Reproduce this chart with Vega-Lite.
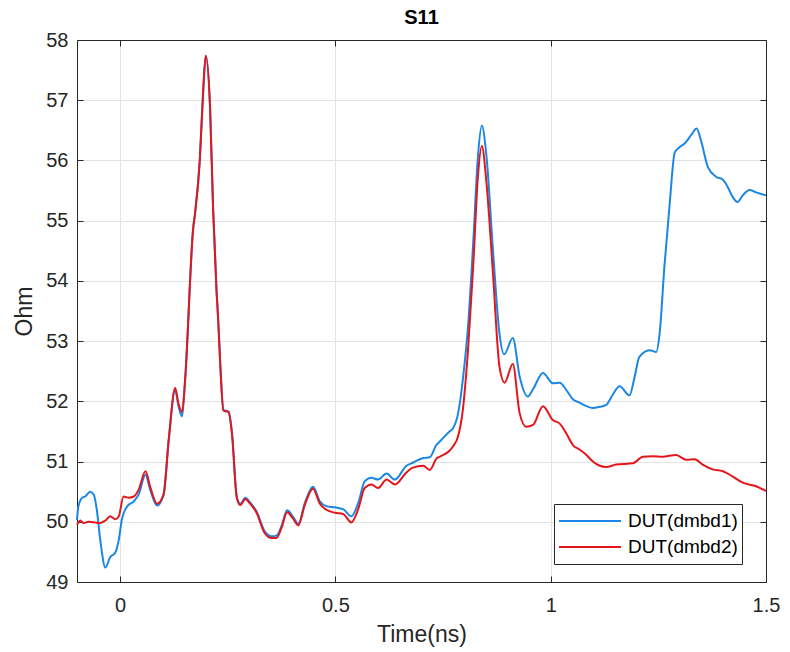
{
"$schema":"https://vega.github.io/schema/vega-lite/v6.json",
"width":689,"height":542,
"autosize":{"type":"none"},
"padding":{"left":77,"top":40,"right":24,"bottom":70},
"background":"white",
"title":{"text":"S11","fontSize":20,"fontWeight":"bold","font":"Liberation Sans","color":"#000000","offset":14,"dy":12},
"config":{"view":{"stroke":null},"font":"Liberation Sans",
 "axis":{"labelFont":"Liberation Sans","labelFontSize":20,"labelColor":"#262626","domainColor":"#262626","tickColor":"#262626","tickSize":-6,"gridColor":"#e3e3e3","gridWidth":1,"titleFont":"Liberation Sans","titleFontSize":23,"titleFontWeight":"normal","titleColor":"#262626","labelFlush":false,"labelOverlap":false}},
"datasets":{"d":[
{"s":"DUT(dmbd1)","t":-0.100,"v":50.03},{"s":"DUT(dmbd1)","t":-0.097,"v":50.25},{"s":"DUT(dmbd1)","t":-0.088,"v":50.40},{"s":"DUT(dmbd1)","t":-0.081,"v":50.42},{"s":"DUT(dmbd1)","t":-0.069,"v":50.50},{"s":"DUT(dmbd1)","t":-0.061,"v":50.45},{"s":"DUT(dmbd1)","t":-0.054,"v":50.20},{"s":"DUT(dmbd1)","t":-0.046,"v":49.70},{"s":"DUT(dmbd1)","t":-0.034,"v":49.24},{"s":"DUT(dmbd1)","t":-0.023,"v":49.41},{"s":"DUT(dmbd1)","t":-0.011,"v":49.49},{"s":"DUT(dmbd1)","t":-0.003,"v":49.70},{"s":"DUT(dmbd1)","t":0.004,"v":50.03},{"s":"DUT(dmbd1)","t":0.016,"v":50.25},{"s":"DUT(dmbd1)","t":0.032,"v":50.34},{"s":"DUT(dmbd1)","t":0.043,"v":50.45},{"s":"DUT(dmbd1)","t":0.059,"v":50.78},{"s":"DUT(dmbd1)","t":0.070,"v":50.53},{"s":"DUT(dmbd1)","t":0.086,"v":50.27},{"s":"DUT(dmbd1)","t":0.101,"v":50.45},{"s":"DUT(dmbd1)","t":0.113,"v":51.36},{"s":"DUT(dmbd1)","t":0.128,"v":52.19},{"s":"DUT(dmbd1)","t":0.136,"v":51.91},{"s":"DUT(dmbd1)","t":0.144,"v":51.75},{"s":"DUT(dmbd1)","t":0.151,"v":52.35},{"s":"DUT(dmbd1)","t":0.170,"v":54.90},{"s":"DUT(dmbd1)","t":0.174,"v":55.12},{"s":"DUT(dmbd1)","t":0.185,"v":56.00},{"s":"DUT(dmbd1)","t":0.193,"v":57.16},{"s":"DUT(dmbd1)","t":0.199,"v":57.74},{"s":"DUT(dmbd1)","t":0.209,"v":56.89},{"s":"DUT(dmbd1)","t":0.216,"v":55.23},{"s":"DUT(dmbd1)","t":0.224,"v":53.85},{"s":"DUT(dmbd1)","t":0.228,"v":53.35},{"s":"DUT(dmbd1)","t":0.233,"v":52.58},{"s":"DUT(dmbd1)","t":0.240,"v":51.86},{"s":"DUT(dmbd1)","t":0.252,"v":51.83},{"s":"DUT(dmbd1)","t":0.260,"v":51.47},{"s":"DUT(dmbd1)","t":0.271,"v":50.42},{"s":"DUT(dmbd1)","t":0.279,"v":50.30},{"s":"DUT(dmbd1)","t":0.291,"v":50.40},{"s":"DUT(dmbd1)","t":0.302,"v":50.32},{"s":"DUT(dmbd1)","t":0.317,"v":50.17},{"s":"DUT(dmbd1)","t":0.336,"v":49.84},{"s":"DUT(dmbd1)","t":0.352,"v":49.76},{"s":"DUT(dmbd1)","t":0.363,"v":49.77},{"s":"DUT(dmbd1)","t":0.375,"v":49.93},{"s":"DUT(dmbd1)","t":0.388,"v":50.19},{"s":"DUT(dmbd1)","t":0.401,"v":50.09},{"s":"DUT(dmbd1)","t":0.414,"v":49.97},{"s":"DUT(dmbd1)","t":0.429,"v":50.31},{"s":"DUT(dmbd1)","t":0.448,"v":50.58},{"s":"DUT(dmbd1)","t":0.464,"v":50.34},{"s":"DUT(dmbd1)","t":0.479,"v":50.26},{"s":"DUT(dmbd1)","t":0.499,"v":50.24},{"s":"DUT(dmbd1)","t":0.518,"v":50.21},{"s":"DUT(dmbd1)","t":0.537,"v":50.09},{"s":"DUT(dmbd1)","t":0.553,"v":50.31},{"s":"DUT(dmbd1)","t":0.568,"v":50.67},{"s":"DUT(dmbd1)","t":0.584,"v":50.73},{"s":"DUT(dmbd1)","t":0.599,"v":50.70},{"s":"DUT(dmbd1)","t":0.619,"v":50.80},{"s":"DUT(dmbd1)","t":0.638,"v":50.70},{"s":"DUT(dmbd1)","t":0.665,"v":50.93},{"s":"DUT(dmbd1)","t":0.680,"v":50.98},{"s":"DUT(dmbd1)","t":0.704,"v":51.06},{"s":"DUT(dmbd1)","t":0.719,"v":51.07},{"s":"DUT(dmbd1)","t":0.735,"v":51.28},{"s":"DUT(dmbd1)","t":0.742,"v":51.33},{"s":"DUT(dmbd1)","t":0.765,"v":51.50},{"s":"DUT(dmbd1)","t":0.773,"v":51.55},{"s":"DUT(dmbd1)","t":0.785,"v":51.80},{"s":"DUT(dmbd1)","t":0.796,"v":52.36},{"s":"DUT(dmbd1)","t":0.808,"v":53.24},{"s":"DUT(dmbd1)","t":0.820,"v":54.62},{"s":"DUT(dmbd1)","t":0.831,"v":56.06},{"s":"DUT(dmbd1)","t":0.840,"v":56.58},{"s":"DUT(dmbd1)","t":0.851,"v":56.06},{"s":"DUT(dmbd1)","t":0.866,"v":54.51},{"s":"DUT(dmbd1)","t":0.881,"v":53.13},{"s":"DUT(dmbd1)","t":0.892,"v":52.78},{"s":"DUT(dmbd1)","t":0.912,"v":53.05},{"s":"DUT(dmbd1)","t":0.928,"v":52.41},{"s":"DUT(dmbd1)","t":0.947,"v":52.08},{"s":"DUT(dmbd1)","t":0.959,"v":52.20},{"s":"DUT(dmbd1)","t":0.982,"v":52.47},{"s":"DUT(dmbd1)","t":1.005,"v":52.30},{"s":"DUT(dmbd1)","t":1.021,"v":52.31},{"s":"DUT(dmbd1)","t":1.036,"v":52.19},{"s":"DUT(dmbd1)","t":1.052,"v":52.03},{"s":"DUT(dmbd1)","t":1.067,"v":51.98},{"s":"DUT(dmbd1)","t":1.083,"v":51.92},{"s":"DUT(dmbd1)","t":1.098,"v":51.89},{"s":"DUT(dmbd1)","t":1.114,"v":51.91},{"s":"DUT(dmbd1)","t":1.129,"v":51.94},{"s":"DUT(dmbd1)","t":1.144,"v":52.11},{"s":"DUT(dmbd1)","t":1.160,"v":52.25},{"s":"DUT(dmbd1)","t":1.183,"v":52.10},{"s":"DUT(dmbd1)","t":1.195,"v":52.41},{"s":"DUT(dmbd1)","t":1.206,"v":52.74},{"s":"DUT(dmbd1)","t":1.230,"v":52.85},{"s":"DUT(dmbd1)","t":1.245,"v":52.82},{"s":"DUT(dmbd1)","t":1.253,"v":53.13},{"s":"DUT(dmbd1)","t":1.264,"v":54.23},{"s":"DUT(dmbd1)","t":1.276,"v":55.25},{"s":"DUT(dmbd1)","t":1.288,"v":56.13},{"s":"DUT(dmbd1)","t":1.299,"v":56.22},{"s":"DUT(dmbd1)","t":1.311,"v":56.28},{"s":"DUT(dmbd1)","t":1.326,"v":56.42},{"s":"DUT(dmbd1)","t":1.339,"v":56.53},{"s":"DUT(dmbd1)","t":1.349,"v":56.33},{"s":"DUT(dmbd1)","t":1.365,"v":55.89},{"s":"DUT(dmbd1)","t":1.384,"v":55.73},{"s":"DUT(dmbd1)","t":1.400,"v":55.68},{"s":"DUT(dmbd1)","t":1.411,"v":55.56},{"s":"DUT(dmbd1)","t":1.423,"v":55.39},{"s":"DUT(dmbd1)","t":1.434,"v":55.31},{"s":"DUT(dmbd1)","t":1.446,"v":55.42},{"s":"DUT(dmbd1)","t":1.462,"v":55.51},{"s":"DUT(dmbd1)","t":1.477,"v":55.47},{"s":"DUT(dmbd1)","t":1.500,"v":55.42},
{"s":"DUT(dmbd2)","t":-0.100,"v":49.95},{"s":"DUT(dmbd2)","t":-0.092,"v":50.02},{"s":"DUT(dmbd2)","t":-0.085,"v":49.98},{"s":"DUT(dmbd2)","t":-0.073,"v":50.00},{"s":"DUT(dmbd2)","t":-0.058,"v":49.99},{"s":"DUT(dmbd2)","t":-0.046,"v":49.98},{"s":"DUT(dmbd2)","t":-0.034,"v":50.02},{"s":"DUT(dmbd2)","t":-0.023,"v":50.09},{"s":"DUT(dmbd2)","t":-0.011,"v":50.04},{"s":"DUT(dmbd2)","t":-0.003,"v":50.09},{"s":"DUT(dmbd2)","t":0.008,"v":50.42},{"s":"DUT(dmbd2)","t":0.020,"v":50.40},{"s":"DUT(dmbd2)","t":0.032,"v":50.42},{"s":"DUT(dmbd2)","t":0.043,"v":50.53},{"s":"DUT(dmbd2)","t":0.059,"v":50.84},{"s":"DUT(dmbd2)","t":0.070,"v":50.58},{"s":"DUT(dmbd2)","t":0.086,"v":50.30},{"s":"DUT(dmbd2)","t":0.101,"v":50.45},{"s":"DUT(dmbd2)","t":0.113,"v":51.36},{"s":"DUT(dmbd2)","t":0.128,"v":52.22},{"s":"DUT(dmbd2)","t":0.136,"v":51.95},{"s":"DUT(dmbd2)","t":0.144,"v":51.82},{"s":"DUT(dmbd2)","t":0.151,"v":52.35},{"s":"DUT(dmbd2)","t":0.170,"v":54.88},{"s":"DUT(dmbd2)","t":0.174,"v":55.10},{"s":"DUT(dmbd2)","t":0.185,"v":55.98},{"s":"DUT(dmbd2)","t":0.193,"v":57.14},{"s":"DUT(dmbd2)","t":0.199,"v":57.74},{"s":"DUT(dmbd2)","t":0.209,"v":56.87},{"s":"DUT(dmbd2)","t":0.216,"v":55.20},{"s":"DUT(dmbd2)","t":0.224,"v":53.83},{"s":"DUT(dmbd2)","t":0.228,"v":53.33},{"s":"DUT(dmbd2)","t":0.233,"v":52.56},{"s":"DUT(dmbd2)","t":0.240,"v":51.85},{"s":"DUT(dmbd2)","t":0.252,"v":51.82},{"s":"DUT(dmbd2)","t":0.260,"v":51.45},{"s":"DUT(dmbd2)","t":0.271,"v":50.40},{"s":"DUT(dmbd2)","t":0.279,"v":50.28},{"s":"DUT(dmbd2)","t":0.291,"v":50.38},{"s":"DUT(dmbd2)","t":0.302,"v":50.30},{"s":"DUT(dmbd2)","t":0.317,"v":50.15},{"s":"DUT(dmbd2)","t":0.336,"v":49.81},{"s":"DUT(dmbd2)","t":0.352,"v":49.73},{"s":"DUT(dmbd2)","t":0.363,"v":49.73},{"s":"DUT(dmbd2)","t":0.375,"v":49.90},{"s":"DUT(dmbd2)","t":0.388,"v":50.16},{"s":"DUT(dmbd2)","t":0.401,"v":50.06},{"s":"DUT(dmbd2)","t":0.414,"v":49.94},{"s":"DUT(dmbd2)","t":0.429,"v":50.28},{"s":"DUT(dmbd2)","t":0.448,"v":50.55},{"s":"DUT(dmbd2)","t":0.464,"v":50.30},{"s":"DUT(dmbd2)","t":0.479,"v":50.20},{"s":"DUT(dmbd2)","t":0.499,"v":50.15},{"s":"DUT(dmbd2)","t":0.518,"v":50.13},{"s":"DUT(dmbd2)","t":0.537,"v":49.99},{"s":"DUT(dmbd2)","t":0.553,"v":50.21},{"s":"DUT(dmbd2)","t":0.568,"v":50.56},{"s":"DUT(dmbd2)","t":0.584,"v":50.62},{"s":"DUT(dmbd2)","t":0.599,"v":50.56},{"s":"DUT(dmbd2)","t":0.619,"v":50.70},{"s":"DUT(dmbd2)","t":0.638,"v":50.62},{"s":"DUT(dmbd2)","t":0.665,"v":50.82},{"s":"DUT(dmbd2)","t":0.680,"v":50.90},{"s":"DUT(dmbd2)","t":0.704,"v":50.93},{"s":"DUT(dmbd2)","t":0.719,"v":50.86},{"s":"DUT(dmbd2)","t":0.735,"v":51.05},{"s":"DUT(dmbd2)","t":0.742,"v":51.08},{"s":"DUT(dmbd2)","t":0.765,"v":51.18},{"s":"DUT(dmbd2)","t":0.773,"v":51.25},{"s":"DUT(dmbd2)","t":0.785,"v":51.42},{"s":"DUT(dmbd2)","t":0.796,"v":51.86},{"s":"DUT(dmbd2)","t":0.808,"v":52.85},{"s":"DUT(dmbd2)","t":0.820,"v":54.23},{"s":"DUT(dmbd2)","t":0.831,"v":55.73},{"s":"DUT(dmbd2)","t":0.840,"v":56.24},{"s":"DUT(dmbd2)","t":0.851,"v":55.62},{"s":"DUT(dmbd2)","t":0.866,"v":54.12},{"s":"DUT(dmbd2)","t":0.881,"v":52.58},{"s":"DUT(dmbd2)","t":0.893,"v":52.31},{"s":"DUT(dmbd2)","t":0.912,"v":52.62},{"s":"DUT(dmbd2)","t":0.928,"v":51.80},{"s":"DUT(dmbd2)","t":0.943,"v":51.58},{"s":"DUT(dmbd2)","t":0.959,"v":51.61},{"s":"DUT(dmbd2)","t":0.982,"v":51.92},{"s":"DUT(dmbd2)","t":1.005,"v":51.69},{"s":"DUT(dmbd2)","t":1.021,"v":51.63},{"s":"DUT(dmbd2)","t":1.036,"v":51.47},{"s":"DUT(dmbd2)","t":1.052,"v":51.27},{"s":"DUT(dmbd2)","t":1.067,"v":51.20},{"s":"DUT(dmbd2)","t":1.083,"v":51.11},{"s":"DUT(dmbd2)","t":1.098,"v":51.00},{"s":"DUT(dmbd2)","t":1.114,"v":50.93},{"s":"DUT(dmbd2)","t":1.129,"v":50.91},{"s":"DUT(dmbd2)","t":1.152,"v":50.95},{"s":"DUT(dmbd2)","t":1.191,"v":50.97},{"s":"DUT(dmbd2)","t":1.214,"v":51.08},{"s":"DUT(dmbd2)","t":1.237,"v":51.09},{"s":"DUT(dmbd2)","t":1.260,"v":51.08},{"s":"DUT(dmbd2)","t":1.291,"v":51.11},{"s":"DUT(dmbd2)","t":1.315,"v":51.03},{"s":"DUT(dmbd2)","t":1.334,"v":51.04},{"s":"DUT(dmbd2)","t":1.353,"v":50.95},{"s":"DUT(dmbd2)","t":1.376,"v":50.87},{"s":"DUT(dmbd2)","t":1.400,"v":50.84},{"s":"DUT(dmbd2)","t":1.423,"v":50.75},{"s":"DUT(dmbd2)","t":1.446,"v":50.65},{"s":"DUT(dmbd2)","t":1.477,"v":50.59},{"s":"DUT(dmbd2)","t":1.500,"v":50.51}
]},
"data":{"name":"d"},
"layer":[
{"mark":{"type":"line","strokeWidth":2,"interpolate":"monotone"},
 "encoding":{
  "x":{"field":"t","type":"quantitative","scale":{"domain":[-0.1,1.5],"nice":false,"zero":false},
       "axis":{"orient":"bottom","values":[0,0.5,1,1.5],"format":"~g","title":"Time(ns)","labelPadding":19,"titlePadding":8,"grid":true}},
  "y":{"field":"v","type":"quantitative","scale":{"domain":[49,58],"nice":false,"zero":false},
       "axis":{"orient":"left","values":[49,50,51,52,53,54,55,56,57,58],"title":"Ohm","labelPadding":15,"titleX":-41,"titleY":271,"grid":true}},
  "color":{"field":"s","type":"nominal","scale":{"domain":["DUT(dmbd1)","DUT(dmbd2)"],"range":["#1a87e6","#e3161c"]},
       "legend":{"orient":"none","legendX":477,"legendY":464,"title":null,"symbolType":"stroke","symbolSize":3844,"symbolStrokeWidth":2,"clipHeight":26,"labelFontSize":19,"labelFont":"Liberation Sans","labelColor":"#000000","strokeColor":"#262626","fillColor":"white","padding":4,"labelOffset":6,"rowPadding":0,"labelLimit":300}}
 }},
{"mark":{"type":"line","opacity":0},
 "encoding":{
  "x":{"field":"t","type":"quantitative","scale":{"domain":[-0.1,1.5],"nice":false,"zero":false},
       "axis":{"orient":"top","values":[0,0.5,1,1.5],"labels":false,"title":null,"grid":false}},
  "y":{"field":"v","type":"quantitative","scale":{"domain":[49,58],"nice":false,"zero":false},
       "axis":{"orient":"right","values":[49,50,51,52,53,54,55,56,57,58],"labels":false,"title":null,"grid":false}}
 }}
],
"resolve":{"axis":{"x":"independent","y":"independent"}}
}
